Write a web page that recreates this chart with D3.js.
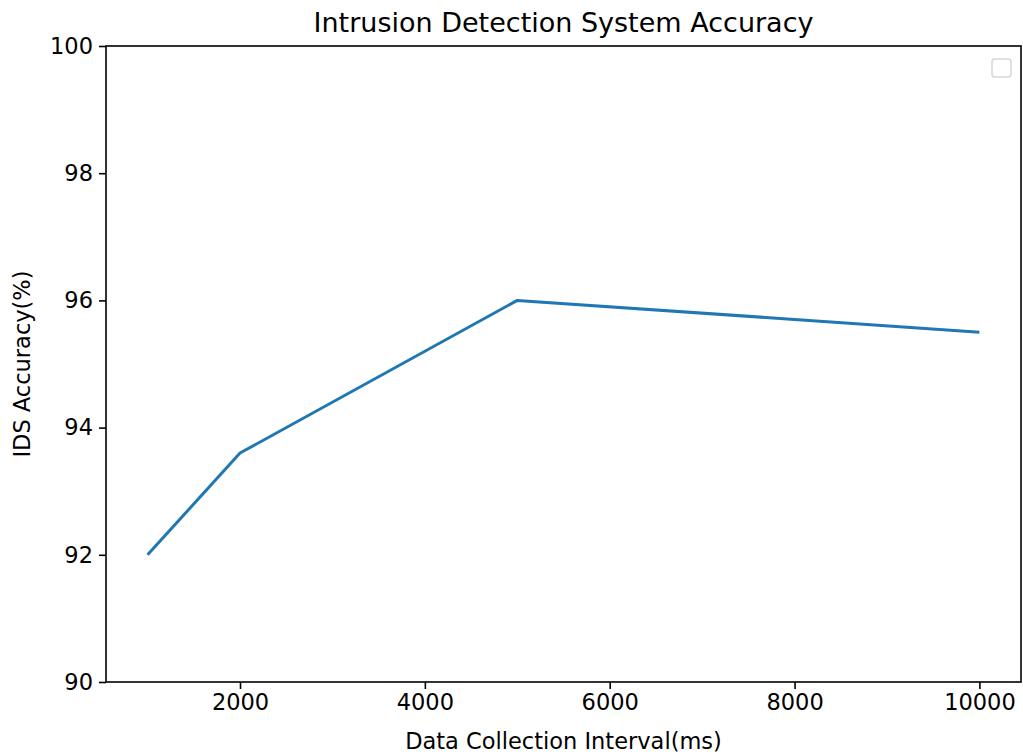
<!DOCTYPE html>
<html>
<head>
<meta charset="utf-8">
<script src="https://cdn.jsdelivr.net/npm/d3@7"></script>
<style>
  body { margin: 0; background: #fff; }
  svg text { font-family: "DejaVu Sans", sans-serif; fill: #000; }
</style>
</head>
<body>
<script>
// values
const intervals = [1000, 2000, 5000, 10000];
const accuracy = [92, 93.6, 96, 95.5];
const xTicks = [2000, 4000, 6000, 8000, 10000];
const yTicks = [90, 92, 94, 96, 98, 100];

const width = 1023, height = 756;
const margin = {left: 106, right: 2, top: 46, bottom: 74};
const xMax = width - margin.left - margin.right;
const yMax = height - margin.top - margin.bottom;

const svg = d3.select("body").append("svg")
    .attr("width", width)
    .attr("height", height);

const g = svg.append("g")
    .attr("transform", "translate(" + margin.left + "," + margin.top + ")");

// x gets matplotlib's 5% padding
const pad = (d3.max(intervals) - d3.min(intervals)) * 0.05;
const x = d3.scaleLinear()
    .domain([d3.min(intervals) - pad, d3.max(intervals) + pad])
    .range([0, xMax]);

const y = d3.scaleLinear()
    .domain([90, 100])
    .range([yMax, 0]);

// axes
const xAxis = g.append("g")
    .attr("transform", "translate(0," + yMax + ")")
    .call(d3.axisBottom(x).tickValues(xTicks).tickSize(7).tickPadding(5).tickFormat(d3.format("d")));

const yAxis = g.append("g")
    .call(d3.axisLeft(y).tickValues(yTicks).tickSize(7).tickPadding(6).tickFormat(d3.format("d")));

[xAxis, yAxis].forEach(a => {
    a.select(".domain").remove();
    a.selectAll(".tick line").attr("stroke", "#000").attr("stroke-width", 1.6);
    a.selectAll(".tick text").style("font-size", "22.5px").attr("fill", "#000");
});

// frame
g.append("rect")
    .attr("width", xMax)
    .attr("height", yMax)
    .attr("fill", "none")
    .attr("stroke", "#000")
    .attr("stroke-width", 1.6);

// the line
const pts = intervals.map((v, i) => [v, accuracy[i]]);
g.append("path")
    .datum(pts)
    .attr("fill", "none")
    .attr("stroke", "#1f77b4")
    .attr("stroke-width", 3)
    .attr("stroke-linejoin", "round")
    .attr("d", d3.line().x(d => x(d[0])).y(d => y(d[1])));

// empty legend box
g.append("rect")
    .attr("x", xMax - 29)
    .attr("y", 13)
    .attr("width", 19)
    .attr("height", 18)
    .attr("rx", 3)
    .attr("fill", "#fff")
    .attr("stroke", "#d6d6d6")
    .attr("stroke-width", 1.5);

// labels
svg.append("text")
    .attr("x", margin.left + xMax / 2)
    .attr("y", 32)
    .attr("text-anchor", "middle")
    .style("font-size", "27px")
    .text("Intrusion Detection System Accuracy");

svg.append("text")
    .attr("x", margin.left + xMax / 2)
    .attr("y", 749)
    .attr("text-anchor", "middle")
    .style("font-size", "22.5px")
    .text("Data Collection Interval(ms)");

svg.append("text")
    .attr("transform", "translate(30," + (margin.top + yMax / 2) + ") rotate(-90)")
    .attr("text-anchor", "middle")
    .style("font-size", "22.5px")
    .text("IDS Accuracy(%)");
</script>
</body>
</html>
